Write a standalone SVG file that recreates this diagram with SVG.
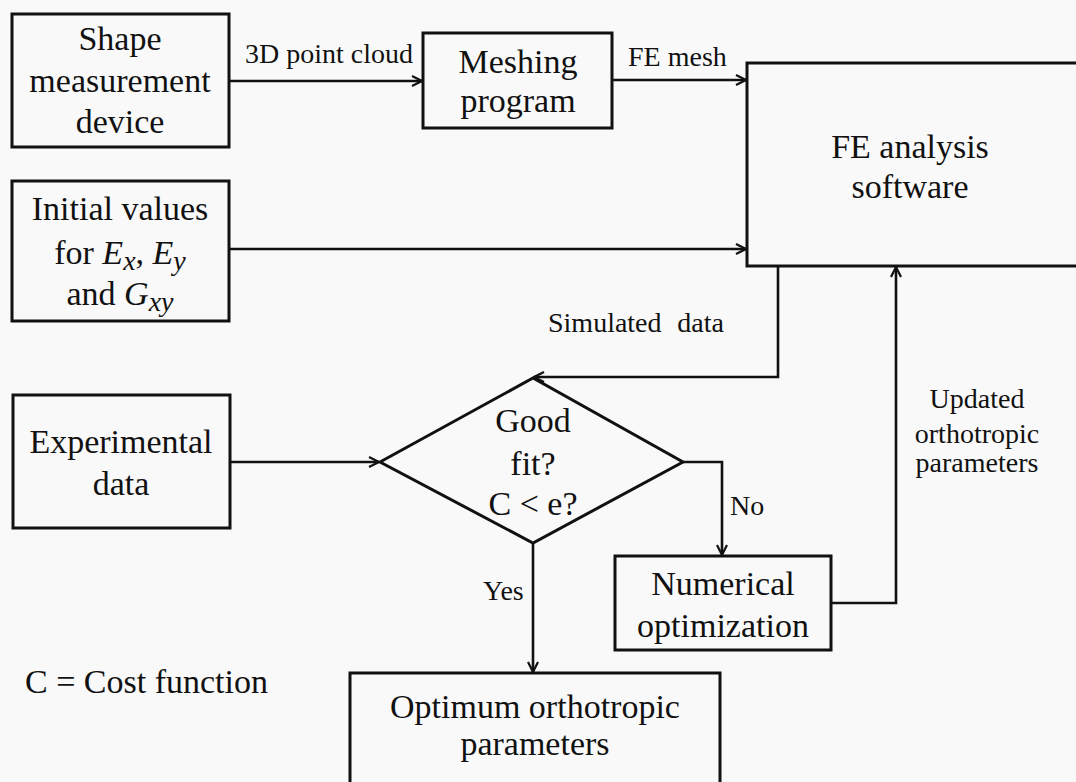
<svg xmlns="http://www.w3.org/2000/svg" width="1076" height="782" viewBox="0 0 1076 782">
<style>
.bg{fill:#f9f9f9}
.box{fill:none;stroke:#111;stroke-width:3}
.c{fill:none;stroke:#111;stroke-width:2.6}
text{font-family:"Liberation Serif","Times New Roman",serif;fill:#111}
.n{font-size:34px;text-anchor:middle}
.l{font-size:28px}
.m{text-anchor:middle}
.i{font-style:italic}
</style>
<defs>
<marker id="ah" viewBox="0 0 12 12" refX="11" refY="6" markerWidth="12" markerHeight="12" markerUnits="userSpaceOnUse" orient="auto">
<path d="M1,1 L11,6 L1,11" fill="none" stroke="#111" stroke-width="2.2"/>
</marker>
</defs>
<rect class="bg" x="0" y="0" width="1076" height="782"/>

<g id="shape">
<rect class="box" x="12" y="14" width="217" height="133"/>
<text class="n" x="120" y="50">Shape</text>
<text class="n" x="120" y="92">measurement</text>
<text class="n" x="120" y="133">device</text>
</g>

<g id="meshing">
<rect class="box" x="423" y="33" width="189" height="95"/>
<text class="n" x="518" y="73">Meshing</text>
<text class="n" x="518" y="112">program</text>
</g>

<g id="fe">
<rect class="box" x="747" y="63" width="345" height="203"/>
<text class="n" x="910" y="158">FE analysis</text>
<text class="n" x="910" y="198">software</text>
</g>

<g id="initial">
<rect class="box" x="12" y="181" width="217" height="140"/>
<text class="n" x="120" y="220">Initial values</text>
<text class="n" x="120" y="264">for <tspan class="i">E</tspan><tspan class="i" dy="6" font-size="28">x</tspan><tspan dy="-6">, </tspan><tspan class="i">E</tspan><tspan class="i" dy="6" font-size="28">y</tspan></text>
<text class="n" x="120" y="305">and <tspan class="i">G</tspan><tspan class="i" dy="6" font-size="28">xy</tspan></text>
</g>

<g id="experimental">
<rect class="box" x="13" y="395" width="217" height="133"/>
<text class="n" x="121" y="453">Experimental</text>
<text class="n" x="121" y="495">data</text>
</g>

<g id="decision">
<path class="box" d="M380,462 L533,378 L683,462 L533,543 Z"/>
<text class="n" x="533" y="432">Good</text>
<text class="n" x="533" y="475">fit?</text>
<text class="n" x="533" y="515">C &lt; e?</text>
</g>

<g id="numerical">
<rect class="box" x="615" y="556" width="216" height="94"/>
<text class="n" x="723" y="595">Numerical</text>
<text class="n" x="723" y="637">optimization</text>
</g>

<g id="optimum">
<rect class="box" x="350" y="673" width="370" height="125"/>
<text class="n" x="535" y="718">Optimum orthotropic</text>
<text class="n" x="535" y="755">parameters</text>
</g>

<g id="legend">
<text class="n" x="25" y="693" style="text-anchor:start">C = Cost function</text>
</g>

<g id="connectors">
<path class="c" d="M229,81 H422" marker-end="url(#ah)"/>
<path class="c" d="M612,80 H746" marker-end="url(#ah)"/>
<path class="c" d="M229,249 H746" marker-end="url(#ah)"/>
<path class="c" d="M778,266 V377 H534" marker-end="url(#ah)"/>
<path class="c" d="M230,462 H379" marker-end="url(#ah)"/>
<path class="c" d="M683,462 H722 V555" marker-end="url(#ah)"/>
<path class="c" d="M533,543 V672" marker-end="url(#ah)"/>
<path class="c" d="M831,603 H896 V267" marker-end="url(#ah)"/>
<text class="l" x="548" y="332">Simulated</text>
<text class="l" x="724" y="332" style="text-anchor:end">data</text>
<text class="l" x="245" y="63">3D point cloud</text>
<text class="l" x="628" y="66">FE mesh</text>
<text class="l m" x="977" y="408">Updated</text>
<text class="l m" x="977" y="443">orthotropic</text>
<text class="l m" x="977" y="472">parameters</text>
<text class="l" x="730" y="515">No</text>
<text class="l" x="483" y="600">Yes</text>
</g>
</svg>
